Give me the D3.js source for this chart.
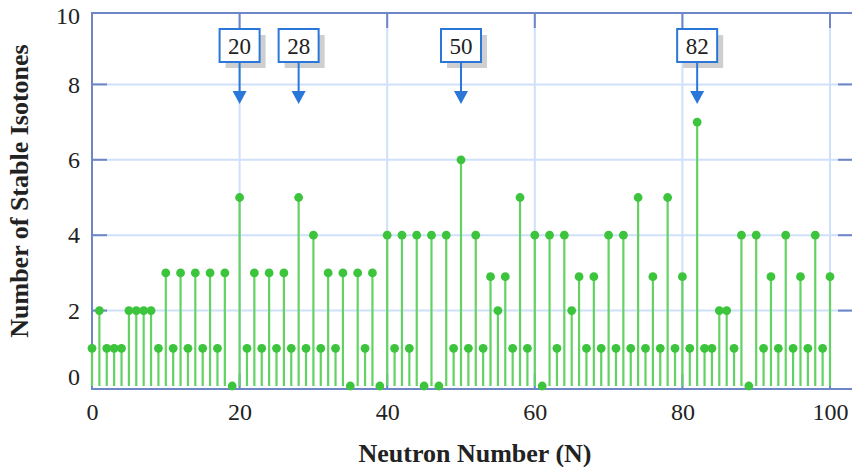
<!DOCTYPE html>
<html>
<head>
<meta charset="utf-8">
<script src="https://cdn.jsdelivr.net/npm/d3@7"></script>
<style>
  html, body { margin: 0; padding: 0; background: #fff; }
  svg { display: block; }
</style>
</head>
<body>
<svg id="chart" width="852" height="467"></svg>
<script>
// Number of stable isotones for each neutron number N = 0 … 100
const isotoneCounts = [
  1, 2, 1, 1, 1, 2, 2, 2, 2, 1,
  3, 1, 3, 1, 3, 1, 3, 1, 3, 0,
  5, 1, 3, 1, 3, 1, 3, 1, 5, 1,
  4, 1, 3, 1, 3, 0, 3, 1, 3, 0,
  4, 1, 4, 1, 4, 0, 4, 0, 4, 1,
  6, 1, 4, 1, 2.9, 2, 2.9, 1, 5, 1,
  4, 0, 4, 1, 4, 2, 2.9, 1, 2.9, 1,
  4, 1, 4, 1, 5, 1, 2.9, 1, 5, 1,
  2.9, 1, 7, 1, 1, 2, 2, 1, 4, 0,
  4, 1, 2.9, 1, 4, 1, 2.9, 1, 4, 1,
  2.9
];
const neutronNumbers = d3.range(isotoneCounts.length);

// Magic numbers flagged above the plot
const magicNumbers = [20, 28, 50, 82];

const xTicks = [0, 20, 40, 60, 80, 100];
const yTicks = [0, 2, 4, 6, 8, 10];

const svg = d3.select("#chart");

const frame = { left: 92, right: 853, top: 13, bottom: 389 };
const x = d3.scaleLinear().domain([0, 100]).range([92, 830]);
const y = d3.scaleLinear().domain([0, 10]).range([386, 9]);

const frameColor = "#6f86c6";
const gridColor = "#cfe0fb";
const stemColor = "#62d262";
const dotColor = "#3cc43c";
const arrowColor = "#2b77d9";

// Grid lines
const grid = svg.append("g");
grid.selectAll("line.v").data(xTicks.filter(d => d > 0)).join("line")
  .attr("x1", d => x(d)).attr("x2", d => x(d))
  .attr("y1", frame.top).attr("y2", frame.bottom)
  .attr("stroke", gridColor).attr("stroke-width", 2);
grid.selectAll("line.h").data(yTicks.filter(d => d > 0 && d < 10)).join("line")
  .attr("x1", frame.left).attr("x2", frame.right)
  .attr("y1", d => y(d)).attr("y2", d => y(d))
  .attr("stroke", gridColor).attr("stroke-width", 2);

// Frame with inward tick marks
const fr = svg.append("g").attr("stroke", frameColor).attr("stroke-width", 2).attr("fill", "none");
fr.append("rect")
  .attr("x", frame.left).attr("y", frame.top)
  .attr("width", frame.right - frame.left).attr("height", frame.bottom - frame.top);
const tickLen = 15;
xTicks.filter(d => d > 0).forEach(d => {
  fr.append("line").attr("x1", x(d)).attr("x2", x(d)).attr("y1", frame.bottom).attr("y2", frame.bottom - tickLen);
  fr.append("line").attr("x1", x(d)).attr("x2", x(d)).attr("y1", frame.top).attr("y2", frame.top + tickLen);
});
yTicks.filter(d => d > 0 && d < 10).forEach(d => {
  fr.append("line").attr("y1", y(d)).attr("y2", y(d)).attr("x1", frame.left).attr("x2", frame.left + tickLen);
  fr.append("line").attr("y1", y(d)).attr("y2", y(d)).attr("x1", frame.right).attr("x2", frame.right - tickLen);
});

// Axis tick labels (D3 axes, frame lines drawn separately)
const tickFont = "'Liberation Serif', 'Times New Roman', serif";
const xAxis = svg.append("g")
  .attr("transform", `translate(0,${frame.bottom})`)
  .call(d3.axisBottom(x).tickValues(xTicks).tickSize(0).tickPadding(0));
xAxis.select(".domain").remove();
xAxis.selectAll("text")
  .attr("y", 0).attr("dy", "31px")
  .attr("font-family", tickFont).attr("font-size", 24).attr("fill", "#222");

const yAxis = svg.append("g")
  .attr("transform", `translate(${frame.left},0)`)
  .call(d3.axisLeft(y).tickValues(yTicks).tickSize(0).tickPadding(12));
yAxis.select(".domain").remove();
yAxis.selectAll("text")
  .attr("font-family", tickFont).attr("font-size", 24).attr("fill", "#222")
  .attr("dy", d => d === 0 ? "-0.05em" : d === 10 ? "0.62em" : "0.32em");

// Stems and markers
const stems = svg.append("g");
stems.selectAll("line").data(neutronNumbers).join("line")
  .attr("x1", d => x(d)).attr("x2", d => x(d))
  .attr("y1", y(0)).attr("y2", d => y(isotoneCounts[d]))
  .attr("stroke", stemColor).attr("stroke-width", 2.2);
stems.selectAll("circle").data(neutronNumbers).join("circle")
  .attr("cx", d => x(d)).attr("cy", d => y(isotoneCounts[d]))
  .attr("r", 4.4).attr("fill", dotColor);

// Magic-number callouts: boxed label with shadow and a downward arrow
const boxW = 40, boxH = 33, boxTop = 29, arrowTip = 104, headH = 13, headW = 14;
const callouts = svg.append("g").selectAll("g").data(magicNumbers).join("g")
  .attr("transform", d => `translate(${x(d)},0)`);
callouts.append("rect")
  .attr("x", -boxW / 2 + 6).attr("y", boxTop + 6)
  .attr("width", boxW).attr("height", boxH)
  .attr("fill", "#cfcfcf");
callouts.append("rect")
  .attr("x", -boxW / 2).attr("y", boxTop)
  .attr("width", boxW).attr("height", boxH)
  .attr("fill", "#fff").attr("stroke", arrowColor).attr("stroke-width", 2);
callouts.append("text")
  .attr("x", 0).attr("y", boxTop + boxH / 2)
  .attr("dy", "0.35em").attr("text-anchor", "middle")
  .attr("font-family", tickFont).attr("font-size", 23).attr("fill", "#222")
  .text(d => d);
callouts.append("line")
  .attr("x1", 0).attr("x2", 0)
  .attr("y1", boxTop + boxH).attr("y2", arrowTip - headH + 1)
  .attr("stroke", arrowColor).attr("stroke-width", 2);
callouts.append("path")
  .attr("d", `M${-headW / 2},${arrowTip - headH} L${headW / 2},${arrowTip - headH} L0,${arrowTip} Z`)
  .attr("fill", arrowColor);

// Axis titles
svg.append("text")
  .attr("x", 475).attr("y", 462)
  .attr("text-anchor", "middle")
  .attr("font-family", tickFont).attr("font-weight", "bold").attr("font-size", 26)
  .attr("fill", "#222")
  .text("Neutron Number (N)");
svg.append("text")
  .attr("transform", "translate(28,191) rotate(-90)")
  .attr("text-anchor", "middle")
  .attr("font-family", tickFont).attr("font-weight", "bold").attr("font-size", 26)
  .attr("fill", "#222")
  .text("Number of Stable Isotones");
</script>
</body>
</html>
